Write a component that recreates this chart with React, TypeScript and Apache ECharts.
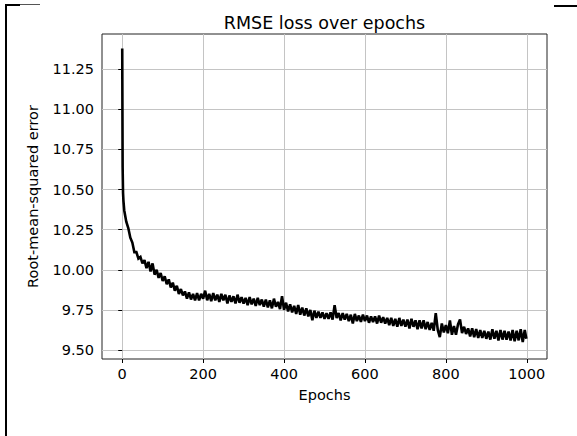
import React, { useEffect, useRef } from "react";
import * as echarts from "echarts";

const epochs = [
  0, 1, 2, 3, 4,
  5, 10, 15, 20, 25, 30, 35, 40, 45, 50,
  55, 60, 65, 70, 75, 80, 85, 90, 95, 100,
  105, 110, 115, 120, 125, 130, 135, 140, 145, 150,
  155, 160, 165, 170, 175, 180, 185, 190, 195, 200,
  205, 210, 215, 220, 225, 230, 235, 240, 245, 250,
  255, 260, 265, 270, 275, 280, 285, 290, 295, 300,
  305, 310, 315, 320, 325, 330, 335, 340, 345, 350,
  355, 360, 365, 370, 375, 380, 385, 390, 395, 400,
  405, 410, 415, 420, 425, 430, 435, 440, 445, 450,
  455, 460, 465, 470, 475, 480, 485, 490, 495, 500,
  505, 510, 515, 520, 525, 530, 535, 540, 545, 550,
  555, 560, 565, 570, 575, 580, 585, 590, 595, 600,
  605, 610, 615, 620, 625, 630, 635, 640, 645, 650,
  655, 660, 665, 670, 675, 680, 685, 690, 695, 700,
  705, 710, 715, 720, 725, 730, 735, 740, 745, 750,
  755, 760, 765, 770, 775, 780, 785, 790, 795, 800,
  805, 810, 815, 820, 825, 830, 835, 840, 845, 850,
  855, 860, 865, 870, 875, 880, 885, 890, 895, 900,
  905, 910, 915, 920, 925, 930, 935, 940, 945, 950,
  955, 960, 965, 970, 975, 980, 985, 990, 995,
  999,
];

const rmse = [
  11.38, 10.64, 10.48, 10.43, 10.40,
  10.37, 10.30, 10.26, 10.20, 10.17, 10.11, 10.11, 10.07, 10.08, 10.04,
  10.06, 10.01, 10.05, 9.99, 10.04, 9.97, 10.00, 9.95, 9.98, 9.93,
  9.96, 9.91, 9.94, 9.89, 9.92, 9.87, 9.90, 9.85, 9.88, 9.84,
  9.865, 9.82, 9.86, 9.815, 9.85, 9.81, 9.855, 9.81, 9.85, 9.82,
  9.87, 9.81, 9.85, 9.805, 9.855, 9.81, 9.845, 9.80, 9.85, 9.81,
  9.845, 9.79, 9.84, 9.80, 9.835, 9.79, 9.845, 9.795, 9.83, 9.79,
  9.825, 9.78, 9.83, 9.785, 9.82, 9.775, 9.825, 9.78, 9.815, 9.77,
  9.815, 9.765, 9.81, 9.76, 9.82, 9.77, 9.80, 9.755, 9.835, 9.75,
  9.795, 9.74, 9.785, 9.735, 9.775, 9.725, 9.78, 9.72, 9.765, 9.715,
  9.76, 9.71, 9.75, 9.685, 9.745, 9.70, 9.74, 9.70, 9.735, 9.695,
  9.73, 9.695, 9.735, 9.69, 9.78, 9.70, 9.73, 9.685, 9.73, 9.69,
  9.725, 9.68, 9.72, 9.665, 9.725, 9.68, 9.715, 9.675, 9.72, 9.68,
  9.715, 9.67, 9.71, 9.675, 9.71, 9.665, 9.715, 9.67, 9.705, 9.665,
  9.70, 9.655, 9.70, 9.65, 9.695, 9.645, 9.70, 9.65, 9.69, 9.645,
  9.69, 9.635, 9.695, 9.645, 9.685, 9.63, 9.685, 9.635, 9.685, 9.63,
  9.675, 9.625, 9.67, 9.62, 9.73, 9.625, 9.58, 9.665, 9.61, 9.655,
  9.605, 9.685, 9.595, 9.65, 9.595, 9.66, 9.69, 9.605, 9.645, 9.60,
  9.635, 9.585, 9.635, 9.58, 9.63, 9.575, 9.625, 9.575, 9.62, 9.57,
  9.615, 9.565, 9.63, 9.57, 9.62, 9.56, 9.625, 9.565, 9.62, 9.565,
  9.615, 9.56, 9.625, 9.555, 9.62, 9.56, 9.63, 9.55, 9.625,
  9.57,
];

const xTicks = [0, 200, 400, 600, 800, 1000];
const yTicks = [9.5, 9.75, 10.0, 10.25, 10.5, 10.75, 11.0, 11.25];

const titleText = "RMSE loss over epochs";
const xLabel = "Epochs";
const yLabel = "Root-mean-squared error";

const FONT = "DejaVu Sans";

export default function App() {
  const ref = useRef<HTMLDivElement>(null);
  useEffect(() => {
    if (!ref.current) return;
    const chart = echarts.init(ref.current, undefined, { renderer: "svg" });
    const data = epochs.map((e, i) => [e, rmse[i]]);
    chart.setOption({
      animation: false,
      backgroundColor: "#ffffff",
      grid: {
        left: 102,
        top: 34,
        right: 30,
        bottom: 77,
        show: true,
        borderColor: "#222",
        borderWidth: 1,
        backgroundColor: "transparent",
      },
      xAxis: {
        type: "value",
        min: -50,
        max: 1050,
        axisLine: { show: false },
        axisTick: {
          show: true,
          inside: false,
          length: 4,
          customValues: xTicks,
          lineStyle: { color: "#000", width: 1 },
        },
        axisLabel: {
          customValues: xTicks,
          margin: 7,
          color: "#000",
          fontFamily: FONT,
          fontSize: 14.5,
          formatter: (v: number) => String(v),
        },
        splitLine: { show: true, lineStyle: { color: "#c4c4c4", width: 1 } },
      },
      yAxis: {
        type: "value",
        min: 9.444,
        max: 11.47,
        axisLine: { show: false },
        axisTick: {
          show: true,
          inside: false,
          length: 4,
          customValues: yTicks,
          lineStyle: { color: "#000", width: 1 },
        },
        axisLabel: {
          customValues: yTicks,
          margin: 8,
          color: "#000",
          fontFamily: FONT,
          fontSize: 14.5,
          formatter: (v: number) => v.toFixed(2),
        },
        splitLine: { show: true, lineStyle: { color: "#c4c4c4", width: 1 } },
      },
      series: [
        {
          type: "line",
          data,
          showSymbol: false,
          symbol: "none",
          lineStyle: { color: "#000", width: 2.6, join: "miter", miterLimit: 2 },
          silent: true,
        },
      ],
      graphic: [
        {
          type: "text",
          x: 324.5,
          y: 23,
          style: {
            text: titleText,
            fill: "#000",
            font: `17.5px "${FONT}"`,
            textAlign: "center",
            textVerticalAlign: "middle",
          },
        },
        {
          type: "text",
          x: 324.5,
          y: 395,
          style: {
            text: xLabel,
            fill: "#000",
            font: `14.5px "${FONT}"`,
            textAlign: "center",
            textVerticalAlign: "middle",
          },
        },
        {
          type: "text",
          x: 33,
          y: 196.5,
          rotation: Math.PI / 2,
          style: {
            text: yLabel,
            fill: "#000",
            font: `14.5px "${FONT}"`,
            textAlign: "center",
            textVerticalAlign: "middle",
          },
        },
        {
          type: "line",
          shape: { x1: 6, y1: 4, x2: 6, y2: 436 },
          style: { stroke: "#000", lineWidth: 2 },
        },
        {
          type: "line",
          shape: { x1: 5, y1: 5, x2: 20, y2: 5 },
          style: { stroke: "#000", lineWidth: 2 },
        },
        {
          type: "line",
          shape: { x1: 20, y1: 4.5, x2: 40, y2: 4.5 },
          style: { stroke: "#555", lineWidth: 1 },
        },
        {
          type: "line",
          shape: { x1: 554, y1: 6, x2: 577, y2: 6 },
          style: { stroke: "#000", lineWidth: 2 },
        },
      ],
    });
    return () => chart.dispose();
  }, []);
  return (
    <div
      ref={ref}
      style={{ position: "fixed", left: 0, top: 0, width: 577, height: 436 }}
    />
  );
}
